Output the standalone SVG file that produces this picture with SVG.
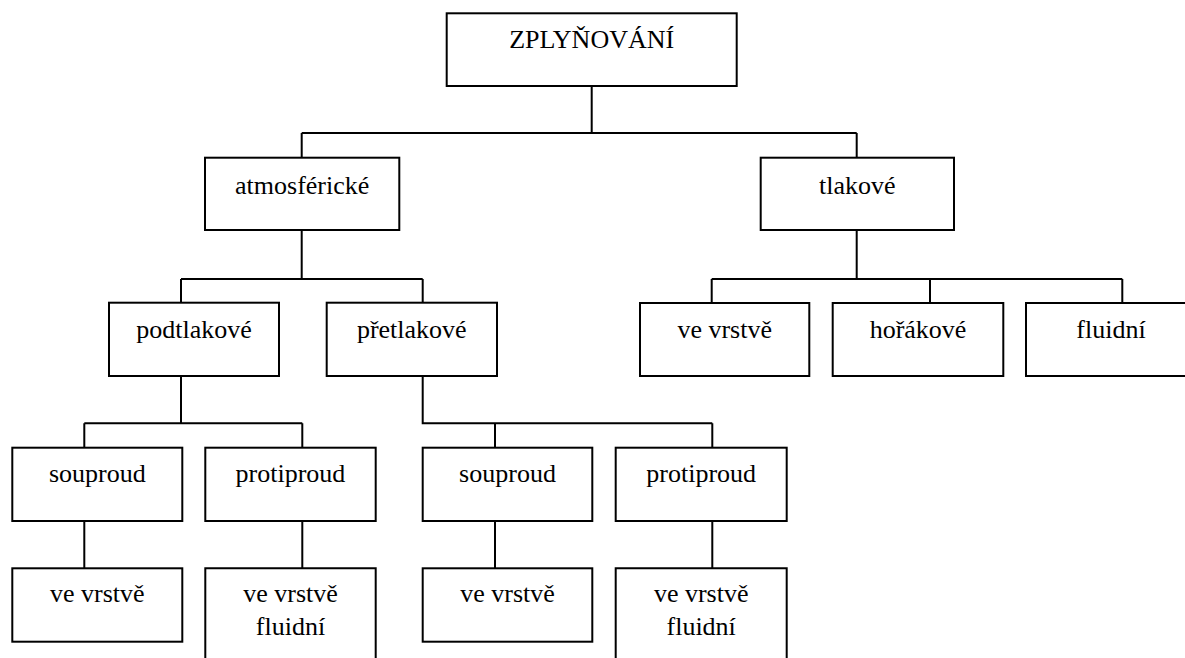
<svg xmlns="http://www.w3.org/2000/svg" width="1185" height="658" viewBox="0 0 1185 658">
  <style>
    .box { fill: #ffffff; stroke: #000000; stroke-width: 2; }
    .open { fill: none; stroke: #000000; stroke-width: 2; }
    .link { fill: none; stroke: #000000; stroke-width: 2; }
    .lbl { font-family: "Liberation Serif", "Times New Roman", serif; font-size: 26px; fill: #000000; text-anchor: middle; }
  </style>
  <rect width="1185" height="658" fill="#ffffff"/>

  <!-- connectors: elbow links between levels -->
  <g id="connectors">
    <path class="link" d="M591.7 86 V133 M301.7 133 H856.7 M301.7 133 V157.7 M856.7 133 V157.7"/>
    <path class="link" d="M301.7 230 V279 M181 279 H422.7 M181 279 V302.7 M422.7 279 V302.7"/>
    <path class="link" d="M856.7 230 V279 M711.7 279 H1122.3 M711.7 279 V303 M930 279 V303 M1122.3 279 V303"/>
    <path class="link" d="M181 376 V423.3 M84.3 423.3 H302.3 M84.3 423.3 V447.7 M302.3 423.3 V447.7"/>
    <path class="link" d="M422.7 376 V423.3 H712.3 M495 423.3 V447.7 M712.3 423.3 V447.7"/>
    <path class="link" d="M84.3 521 V568.3 M302.3 521 V568.3 M495 521 V568.3 M712.3 521 V568.3"/>
  </g>

  <g id="zplynovani">
    <rect class="box" x="446.7" y="13.3" width="290" height="72.7"/>
    <text class="lbl" x="591.7" y="48.3">ZPLYŇOVÁNÍ</text>
  </g>

  <g id="atmosfericke">
    <rect class="box" x="205" y="157.7" width="194.3" height="72.3"/>
    <text class="lbl" x="302.2" y="194">atmosférické</text>
  </g>

  <g id="tlakove">
    <rect class="box" x="760.7" y="157.7" width="193.3" height="72.3"/>
    <text class="lbl" x="857.3" y="194">tlakové</text>
  </g>

  <g id="podtlakove">
    <rect class="box" x="109" y="302.7" width="170" height="73.3"/>
    <text class="lbl" x="194" y="338.3">podtlakové</text>
  </g>

  <g id="pretlakove">
    <rect class="box" x="326.7" y="302.7" width="170.3" height="73.3"/>
    <text class="lbl" x="411.8" y="338.3">přetlakové</text>
  </g>

  <g id="tlak-ve-vrstve">
    <rect class="box" x="640" y="303" width="169.3" height="73"/>
    <text class="lbl" x="724.7" y="338.3">ve vrstvě</text>
  </g>

  <g id="tlak-horakove">
    <rect class="box" x="832.7" y="303" width="170.6" height="73"/>
    <text class="lbl" x="918" y="338.3">hořákové</text>
  </g>

  <g id="tlak-fluidni">
    <rect class="box" x="1026" y="303" width="175" height="73"/>
    <text class="lbl" x="1111" y="338.3">fluidní</text>
  </g>

  <g id="pod-souproud">
    <rect class="box" x="12.3" y="447.7" width="170" height="73.3"/>
    <text class="lbl" x="97.3" y="481.7">souproud</text>
  </g>

  <g id="pod-protiproud">
    <rect class="box" x="205.3" y="447.7" width="170.4" height="73.3"/>
    <text class="lbl" x="290.5" y="481.7">protiproud</text>
  </g>

  <g id="pre-souproud">
    <rect class="box" x="422.7" y="447.7" width="169.6" height="73.3"/>
    <text class="lbl" x="507.5" y="481.7">souproud</text>
  </g>

  <g id="pre-protiproud">
    <rect class="box" x="615.7" y="447.7" width="171" height="73.3"/>
    <text class="lbl" x="701.2" y="481.7">protiproud</text>
  </g>

  <g id="pod-souproud-vrstva">
    <rect class="box" x="12.3" y="568.3" width="170" height="73.4"/>
    <text class="lbl" x="97.3" y="601.7">ve vrstvě</text>
  </g>

  <g id="pod-protiproud-vrstva">
    <path class="open" d="M205.3 670 V568.3 H375.7 V670"/>
    <text class="lbl" x="290.5" y="601.7">ve vrstvě</text>
    <text class="lbl" x="290.5" y="635">fluidní</text>
  </g>

  <g id="pre-souproud-vrstva">
    <rect class="box" x="422.7" y="568.3" width="169.6" height="73.4"/>
    <text class="lbl" x="507.5" y="601.7">ve vrstvě</text>
  </g>

  <g id="pre-protiproud-vrstva">
    <path class="open" d="M615.7 670 V568.3 H786.7 V670"/>
    <text class="lbl" x="701.2" y="601.7">ve vrstvě</text>
    <text class="lbl" x="701.2" y="635">fluidní</text>
  </g>
</svg>
